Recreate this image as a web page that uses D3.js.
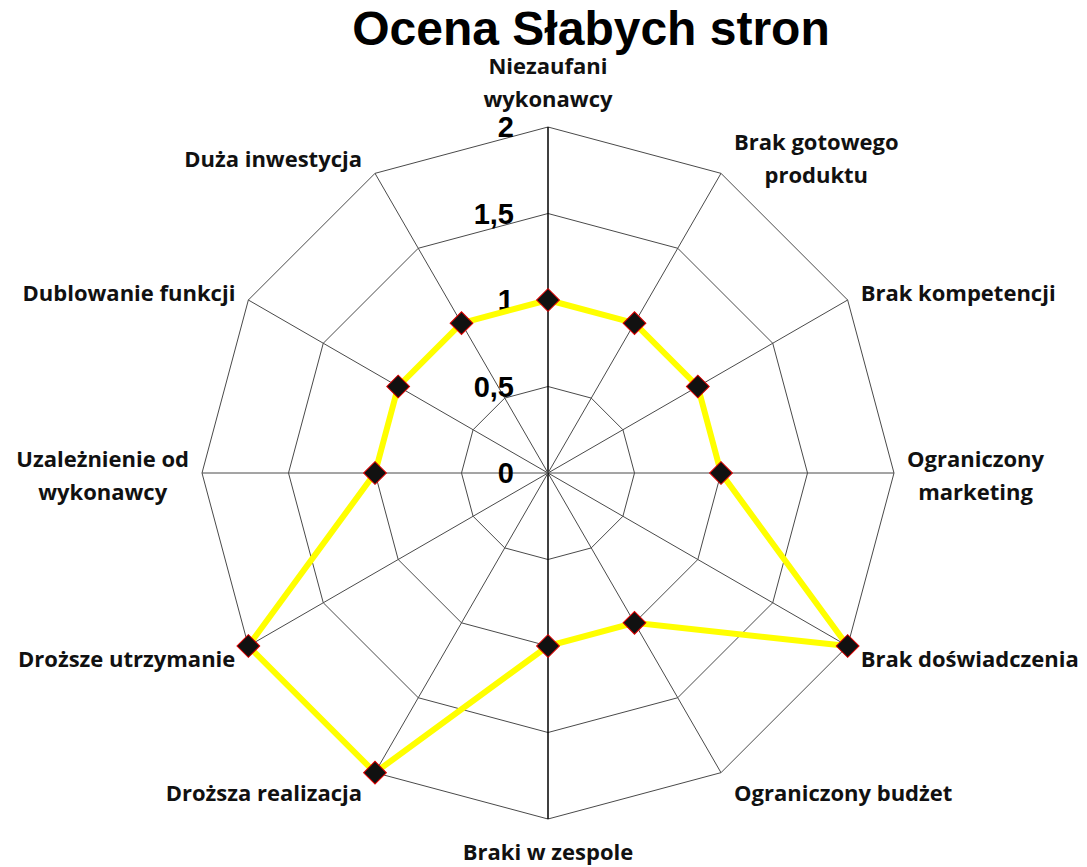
<!DOCTYPE html>
<html>
<head>
<meta charset="utf-8">
<script src="https://cdn.jsdelivr.net/npm/d3@7"></script>
<style>
  body { margin: 0; background: #fff; }
  svg { display: block; }
</style>
</head>
<body>
<svg width="1087" height="867"></svg>
<script>
const categories = [
    ['Niezaufani', 'wykonawcy'],
    ['Brak gotowego', 'produktu'],
    ['Brak kompetencji'],
    ['Ograniczony', 'marketing'],
    ['Brak doświadczenia'],
    ['Ograniczony budżet'],
    ['Braki w zespole'],
    ['Droższa realizacja'],
    ['Droższe utrzymanie'],
    ['Uzależnienie od', 'wykonawcy'],
    ['Dublowanie funkcji'],
    ['Duża inwestycja']
  ],
  values = [1, 1, 1, 1, 2, 1, 1, 2, 2, 1, 1, 1],
  ticks = [0, 0.5, 1, 1.5, 2],
  tickLabels = ['0', '0,5', '1', '1,5', '2']

const svg = d3.select('svg'),
  cx = 548,
  cy = 473,
  R = 346,
  n = categories.length,
  labelFont = "'Open Sans', sans-serif",
  r = d3.scaleLinear().domain([0, 2]).range([0, R]),
  angle = d3.scaleLinear().domain([0, n]).range([0, 2 * Math.PI]),
  pt = (i, v) => [cx + r(v) * Math.sin(angle(i)), cy - r(v) * Math.cos(angle(i))]

// title
svg.append('text')
  .attr('x', 591)
  .attr('y', 45)
  .attr('text-anchor', 'middle')
  .attr('font-family', "'Liberation Sans', Arial, sans-serif")
  .attr('font-weight', 'bold')
  .attr('font-size', 48)
  .text('Ocena Słabych stron')

// rings
const grid = svg.append('g').attr('class', 'grid')
ticks.slice(1).forEach(t => {
  grid.append('path')
    .attr('d', d3.line()(d3.range(n + 1).map(i => pt(i % n, t))))
    .attr('fill', 'none')
    .attr('stroke', '#4a4a4a')
    .attr('stroke-width', 1)
})

// spokes
d3.range(n).forEach(i => {
  const [x, y] = pt(i, 2)
  grid.append('line')
    .attr('x1', cx).attr('y1', cy)
    .attr('x2', x).attr('y2', y)
    .attr('stroke', i === 0 || i === n / 2 ? '#000' : '#4a4a4a')
    .attr('stroke-width', i === 0 || i === n / 2 ? 1.5 : 1)
})

// tick labels
svg.append('g')
  .selectAll('text')
  .data(ticks)
  .join('text')
  .attr('x', 514)
  .attr('y', d => cy - r(d))
  .attr('dy', '0.36em')
  .attr('text-anchor', 'end')
  .attr('font-family', "'Liberation Sans', Arial, sans-serif")
  .attr('font-weight', 'bold')
  .attr('font-size', 29)
  .text((d, i) => tickLabels[i])

// series
svg.append('path')
  .attr('d', d3.line()(values.concat(values[0]).map((v, i) => pt(i % n, v))))
  .attr('fill', 'none')
  .attr('stroke', '#ffff00')
  .attr('stroke-width', 6)
  .attr('stroke-linejoin', 'miter')

svg.append('g')
  .selectAll('path')
  .data(values)
  .join('path')
  .attr('d', d3.symbol(d3.symbolSquare, 260))
  .attr('transform', (v, i) => `translate(${pt(i, v)}) rotate(45)`)
  .attr('fill', '#111')
  .attr('stroke', '#e00000')
  .attr('stroke-width', 1)

// category labels
const lh = 33
categories.forEach((lines, i) => {
  const a = angle(i),
    s = Math.sin(a),
    c = Math.cos(a),
    [vx, vy] = pt(i, 2),
    g = svg.append('g')
  let x, y, anchor
  if (Math.abs(s) < 0.01) {
    anchor = 'middle'
    x = vx
    y = c > 0 ? vy - 28 - (lines.length - 1) * lh : vy + 33
  } else {
    anchor = s > 0 ? 'start' : 'end'
    x = vx + (s > 0 ? 13 : -13)
    y = vy - 20 * c + 3 - ((lines.length - 1) * lh) / 2
  }
  const t = g.append('text')
    .attr('font-family', labelFont)
    .attr('font-weight', 'bold')
    .attr('font-size', 22)
    .attr('fill', '#111')
  lines.forEach((l, j) => {
    t.append('tspan').attr('y', y + j * lh).attr('dy', '0.35em').text(l)
  })
  // center lines within block
  const widths = t.selectAll('tspan').nodes().map(nd => nd.getComputedTextLength()),
    w = d3.max(widths),
    left = anchor === 'start' ? x : anchor === 'end' ? x - w : x - w / 2
  t.selectAll('tspan')
    .attr('x', left + w / 2)
    .attr('text-anchor', 'middle')
})
</script>
</body>
</html>
